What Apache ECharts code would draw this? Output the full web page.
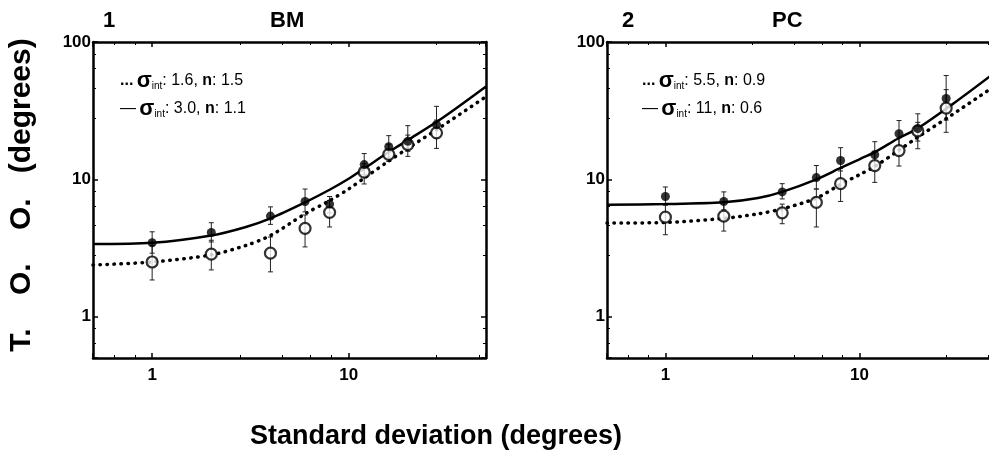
<!DOCTYPE html>
<html>
<head>
<meta charset="utf-8">
<title>T.O.O. vs standard deviation</title>
<script src="https://cdn.jsdelivr.net/npm/echarts@6/dist/echarts.min.js"></script>
<style>
  html, body { margin: 0; padding: 0; background: #fff; }
  #container { width: 989px; height: 454px; }
</style>
</head>
<body>
<div id="container"></div>
<script type="text/javascript">
// --- data ---
var sdX = [1, 2, 4, 6, 8, 12, 16, 20, 28];
var xTickLabels = [1, 10];
var yTickLabels = [1, 10, 100];

// panel 1: BM
var bmStar   = [3.45, 4.1, 5.4, 6.9, 6.6, 12.8, 17.3, 18.9, 25];
var bmStarLo = [2.9, 3.5, 4.7, 5.8, 5.7, 10.8, 14.5, 16.0, 20.0];
var bmStarHi = [4.15, 4.83, 6.3, 8.5, 7.5, 15.4, 20.8, 24.6, 34];
var bmCirc   = [2.5, 2.85, 2.9, 4.4, 5.75, 11.3, 15.2, 17.9, 21.8];
var bmCircLo = [1.85, 2.19, 2.12, 3.22, 4.5, 9.25, 13.5, 14.7, 16.8];
var bmCircHi = [3.3, 3.6, 3.8, 5.5, 7.0, 13.0, 18.0, 21.0, 27.0];

// panel 2: PC
var pcStar   = [7.5, 6.9, 8.1, 10.3, 13.7, 15.1, 21.5, 23.4, 38.8];
var pcStarLo = [6.5, 6.0, 7.2, 8.5, 11.5, 12.5, 17.5, 19.0, 27.0];
var pcStarHi = [8.8, 8.1, 9.3, 12.6, 17.0, 18.8, 26.8, 30.0, 57.0];
var pcCirc   = [5.3, 5.4, 5.7, 6.8, 9.3, 12.6, 16.2, 22.5, 33.0];
var pcCircLo = [3.95, 4.2, 4.75, 4.5, 6.9, 9.5, 12.5, 16.7, 22.0];
var pcCircHi = [6.5, 6.8, 6.6, 8.5, 12.0, 16.0, 20.0, 26.0, 45.0];

// fitted curves
var fitX     = [0.5, 1, 2, 3, 4, 6, 8, 10, 12, 16, 20, 30, 50];
var bmSolid  = [3.38, 3.45, 3.9, 4.5, 5.2, 6.8, 8.4, 10.1, 12.0, 15.8, 19.3, 28.0, 47.5];
var bmDotted = [2.38, 2.5, 2.82, 3.3, 3.9, 5.6, 7.0, 8.5, 10.2, 13.6, 16.8, 24.5, 40.0];
var pcSolid  = [6.53, 6.6, 6.8, 7.3, 8.1, 10.0, 12.1, 14.0, 15.8, 20.0, 23.5, 35.0, 60.0];
var pcDotted = [4.8, 4.85, 5.2, 5.6, 6.1, 7.3, 9.2, 10.8, 12.4, 16.3, 20.3, 29.5, 48.0];

var FONT = "'Liberation Sans', Arial, sans-serif";

function zip(xs, ys) {
  return xs.map(function (x, i) { return [x, ys[i]]; });
}
function zip3(xs, lo, hi) {
  return xs.map(function (x, i) { return [x, lo[i], hi[i]]; });
}
function inList(v, list) {
  for (var i = 0; i < list.length; i++) {
    if (Math.abs(v - list[i]) < 1e-6 * list[i]) return true;
  }
  return false;
}

function xAxisFor(gridIndex, pos) {
  return {
    type: 'log', gridIndex: gridIndex, position: pos,
    min: 0.5, max: 50, splitNumber: 2,
    axisLine: { show: true, lineStyle: { color: '#000', width: 2.5 } },
    axisTick: { show: true, inside: true, length: 5, lineStyle: { color: '#000', width: 1.5 } },
    minorTick: { show: true, length: 3, lineStyle: { color: '#000', width: 1 } },
    splitLine: { show: false },
    axisLabel: {
      show: pos === 'bottom', margin: 9, color: '#000',
      fontFamily: FONT, fontWeight: 'bold', fontSize: 17,
      formatter: function (v) { return inList(v, xTickLabels) ? String(Math.round(v)) : ''; }
    }
  };
}
function yAxisFor(gridIndex, pos) {
  return {
    type: 'log', gridIndex: gridIndex, position: pos,
    min: 0.5, max: 100, splitNumber: 3,
    axisLine: { show: true, lineStyle: { color: '#000', width: 2.5 } },
    axisTick: { show: true, inside: true, length: 5, lineStyle: { color: '#000', width: 1.5 } },
    minorTick: { show: true, length: 3, lineStyle: { color: '#000', width: 1 } },
    splitLine: { show: false },
    axisLabel: {
      show: pos === 'left', margin: 2, color: '#000',
      fontFamily: FONT, fontWeight: 'bold', fontSize: 17,
      formatter: function (v) { return inList(v, yTickLabels) ? String(Math.round(v)) : ''; }
    }
  };
}

function errorBars(xIdx, yIdx, lo, hi) {
  return {
    type: 'custom', xAxisIndex: xIdx, yAxisIndex: yIdx, z: 2,
    data: zip3(sdX, lo, hi),
    encode: { x: 0, y: [1, 2] },
    renderItem: function (params, api) {
      var top = api.coord([api.value(0), api.value(2)]);
      var bot = api.coord([api.value(0), api.value(1)]);
      var w = 2.5;
      var st = { stroke: '#222', lineWidth: 1 };
      return {
        type: 'group',
        children: [
          { type: 'line', shape: { x1: top[0], y1: top[1], x2: bot[0], y2: bot[1] }, style: st },
          { type: 'line', shape: { x1: top[0] - w, y1: top[1], x2: top[0] + w, y2: top[1] }, style: st },
          { type: 'line', shape: { x1: bot[0] - w, y1: bot[1], x2: bot[0] + w, y2: bot[1] }, style: st }
        ]
      };
    }
  };
}

function panelSeries(xIdx, yIdx, solid, dotted, star, circ, sLo, sHi, cLo, cHi) {
  return [
    errorBars(xIdx, yIdx, cLo, cHi),
    errorBars(xIdx, yIdx, sLo, sHi),
    {
      type: 'line', xAxisIndex: xIdx, yAxisIndex: yIdx, z: 3,
      data: zip(fitX, dotted), showSymbol: false, smooth: 0.3,
      lineStyle: { color: '#000', width: 3.5, type: [0.5, 6.5], cap: 'round' }
    },
    {
      type: 'line', xAxisIndex: xIdx, yAxisIndex: yIdx, z: 3,
      data: zip(fitX, solid), showSymbol: false, smooth: 0.3,
      lineStyle: { color: '#000', width: 2.5 }
    },
    {
      type: 'scatter', xAxisIndex: xIdx, yAxisIndex: yIdx, z: 4,
      data: zip(sdX, circ), symbol: 'circle', symbolSize: 11,
      itemStyle: { color: '#fff', borderColor: '#000', borderWidth: 2.2 }
    },
    {
      type: 'scatter', xAxisIndex: xIdx, yAxisIndex: yIdx, z: 5,
      data: zip(sdX, star), symbol: 'circle', symbolSize: 9,
      itemStyle: { color: '#000' }
    }
  ];
}

function legendText(left, top, dash, dashStyle, sig, n) {
  return {
    type: 'text', left: left, top: top, z: 10,
    style: {
      text: '{' + dashStyle + '|' + dash + '} {s|σ}{sub|int}{t|: ' + sig + ', }{b|n}{t|: ' + n + '}',
      fill: '#000',
      rich: {
        d: { fontFamily: FONT, fontWeight: 'bold', fontSize: 16, lineHeight: 24, verticalAlign: 'middle' },
        s: { fontFamily: FONT, fontWeight: 'bold', fontSize: 22, lineHeight: 24, verticalAlign: 'middle' },
        sub: { fontFamily: FONT, fontSize: 10, lineHeight: 24, verticalAlign: 'bottom', padding: [0, 0, 2, 0] },
        t: { fontFamily: FONT, fontSize: 16, lineHeight: 24, verticalAlign: 'middle' },
        b: { fontFamily: FONT, fontWeight: 'bold', fontSize: 16, lineHeight: 24, verticalAlign: 'middle' }
      }
    }
  };
}

var dom = document.getElementById('container');
var myChart = echarts.init(dom, null, { renderer: 'canvas' });

var option = {
  backgroundColor: '#fff',
  animation: false,
  grid: [
    { left: 93, top: 42, width: 393, height: 316, outerBoundsMode: 'none' },
    { left: 607, top: 42, width: 388, height: 316, outerBoundsMode: 'none' }
  ],
  xAxis: [xAxisFor(0, 'bottom'), xAxisFor(0, 'top'), xAxisFor(1, 'bottom'), xAxisFor(1, 'top')],
  yAxis: [yAxisFor(0, 'left'), yAxisFor(0, 'right'), yAxisFor(1, 'left'), yAxisFor(1, 'right')],
  graphic: [
    { type: 'text', left: 103, top: 10, style: { text: '1', fontFamily: FONT, fontWeight: 'bold', fontSize: 22, fill: '#000' } },
    { type: 'text', left: 270, top: 10, style: { text: 'BM', fontFamily: FONT, fontWeight: 'bold', fontSize: 22, fill: '#000' } },
    { type: 'text', left: 622, top: 10, style: { text: '2', fontFamily: FONT, fontWeight: 'bold', fontSize: 22, fill: '#000' } },
    { type: 'text', left: 772, top: 10, style: { text: 'PC', fontFamily: FONT, fontWeight: 'bold', fontSize: 22, fill: '#000' } },
    legendText(120, 70, '...', 'd', '1.6', '1.5'),
    legendText(120, 98, '—', 't', '3.0', '1.1'),
    legendText(642, 70, '...', 'd', '5.5', '0.9'),
    legendText(642, 98, '—', 't', '11', '0.6'),
    {
      type: 'text', x: 22, y: 195, rotation: Math.PI / 2, z: 10,
      style: {
        text: 'T.    O.    O.   (degrees)', fontFamily: FONT, fontWeight: 'bold', fontSize: 30,
        fill: '#000', align: 'center', verticalAlign: 'middle'
      }
    },
    {
      type: 'text', x: 436, y: 437, z: 10,
      style: {
        text: 'Standard deviation (degrees)', fontFamily: FONT, fontWeight: 'bold', fontSize: 27,
        fill: '#000', align: 'center', verticalAlign: 'middle'
      }
    }
  ],
  series: [].concat(
    panelSeries(0, 0, bmSolid, bmDotted, bmStar, bmCirc, bmStarLo, bmStarHi, bmCircLo, bmCircHi),
    panelSeries(2, 2, pcSolid, pcDotted, pcStar, pcCirc, pcStarLo, pcStarHi, pcCircLo, pcCircHi)
  )
};

myChart.setOption(option);
</script>
</body>
</html>
